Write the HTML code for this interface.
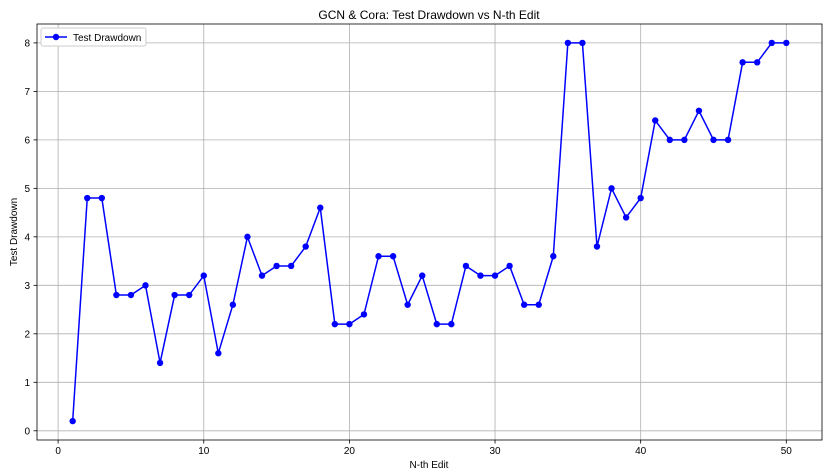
<!DOCTYPE html>
<html><head><meta charset="utf-8"><style>
html,body{margin:0;padding:0;background:#fff;}
svg{display:block;font-family:"Liberation Sans","DejaVu Sans",sans-serif;}
</style></head><body>
<svg id="chart" width="829" height="474" viewBox="0 0 829 474">
<text x="429" y="19" text-anchor="middle" font-size="12" fill="#000">GCN &amp; Cora: Test Drawdown vs N-th Edit</text>
<text x="429" y="468" text-anchor="middle" font-size="10" fill="#000">N-th Edit</text>
<text x="17" y="232" text-anchor="middle" font-size="10" fill="#000" transform="rotate(-90 17 232)">Test Drawdown</text>
<g id="grid"></g><g id="ticks"></g><g id="series"></g>
<rect x="37" y="24" width="785" height="416" fill="none" stroke="#000" stroke-width="0.8"/>
<g>
<rect x="41" y="28" width="105" height="18" fill="#fff" stroke="#ccc" rx="2"/>
<line x1="45" y1="37" x2="67" y2="37" stroke="#0000ff" stroke-width="1.5"/>
<circle cx="56" cy="37" r="3.2" fill="#0000ff"/>
<text x="73" y="41" font-size="10" fill="#000">Test Drawdown</text>
</g>
</svg>
<script>
const edits = [1,2,3,4,5,6,7,8,9,10,11,12,13,14,15,16,17,18,19,20,21,22,23,24,25,26,27,28,29,30,31,32,33,34,35,36,37,38,39,40,41,42,43,44,45,46,47,48,49,50];
const drawdown = [0.2,4.8,4.8,2.8,2.8,3.0,1.4,2.8,2.8,3.2,1.6,2.6,4.0,3.2,3.4,3.4,3.8,4.6,2.2,2.2,2.4,3.6,3.6,2.6,3.2,2.2,2.2,3.4,3.2,3.2,3.4,2.6,2.6,3.6,8.0,8.0,3.8,5.0,4.4,4.8,6.4,6.0,6.0,6.6,6.0,6.0,7.6,7.6,8.0,8.0];
const xTicks = [0,10,20,30,40,50];
const yTicks = [0,1,2,3,4,5,6,7,8];
const NS='http://www.w3.org/2000/svg';
const L=37,R=822,T=24,B=440;
const xmin=-1.45,xmax=52.45,ymin=-0.19,ymax=8.39;
const sx=v=>L+(v-xmin)/(xmax-xmin)*(R-L);
const sy=v=>B-(v-ymin)/(ymax-ymin)*(B-T);
function mk(tag,attrs,parent){const e=document.createElementNS(NS,tag);for(const k in attrs)e.setAttribute(k,attrs[k]);document.getElementById(parent).appendChild(e);return e;}
xTicks.forEach(t=>{
  const g=mk('line',{x1:sx(t),x2:sx(t),y1:T,y2:B,stroke:'#b0b0b0','stroke-width':0.8},'grid');
  
  
  const tk=mk('line',{x1:sx(t),x2:sx(t),y1:B,y2:B+3.5,stroke:'#000','stroke-width':0.8},'ticks');
  
  
  const tx=mk('text',{x:sx(t),y:B+14,'text-anchor':'middle','font-size':10},'ticks');
  tx.textContent=t;
  
  
});
yTicks.forEach(t=>{
  const g=mk('line',{x1:L,x2:R,y1:sy(t),y2:sy(t),stroke:'#b0b0b0','stroke-width':0.8},'grid');
  
  
  const tk=mk('line',{x1:L-3.5,x2:L,y1:sy(t),y2:sy(t),stroke:'#000','stroke-width':0.8},'ticks');
  
  
  const tx=mk('text',{x:L-7,y:sy(t)+3.5,'text-anchor':'end','font-size':10},'ticks');
  tx.textContent=t;
  
  
});
const pts=edits.map((e,i)=>sx(e)+','+sy(drawdown[i])).join(' ');
const pl=mk('polyline',{points:pts,fill:'none',stroke:'#0000ff','stroke-width':1.5},'series');


edits.forEach((e,i)=>{
  const c=mk('circle',{cx:sx(e),cy:sy(drawdown[i]),r:3.2,fill:'#0000ff'},'series');
  
  
});
</script>
</body></html>
